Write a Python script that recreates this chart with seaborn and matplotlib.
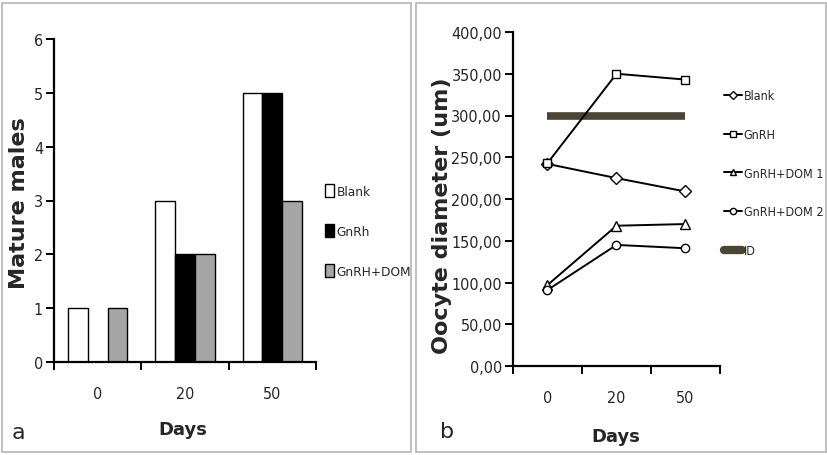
import matplotlib
matplotlib.use("Agg")
import matplotlib.pyplot as plt
from matplotlib import font_manager
from matplotlib.patches import Rectangle, Patch
from matplotlib.lines import Line2D
import numpy as np
import pandas as pd
import seaborn as sns

# ---- data ----
days = ["0", "20", "50"]

# panel a: number of mature males
mature_groups = ["Blank", "GnRh", "GnRH+DOM"]
mature_blank = [1, 3, 5]
mature_gnrh = [0, 2, 5]
mature_gnrh_dom = [1, 2, 3]

# panel b: oocyte diameter (um)
oocyte_groups = ["Blank", "GnRH", "GnRH+DOM 1", "GnRH+DOM 2"]
oocyte_blank = [242, 225, 209]
oocyte_gnrh = [243, 350, 343]
oocyte_dom1 = [97, 168, 170]
oocyte_dom2 = [91, 145, 141]
id_level = [300, 300, 300]

sns.set_theme(style="white")

# pick a narrow face for the numbers and legends if one is installed
narrow = None
for f in font_manager.fontManager.ttflist:
    name = f.name.lower()
    if "narrow" in name or "condensed" in name or f.stretch in ("condensed", "semi-condensed"):
        narrow = f
        break
if narrow is not None:
    nfam, nstretch, tick_size, leg_a, leg_b = narrow.name, narrow.stretch, 11.5, 9.7, 9
else:
    nfam, nstretch, tick_size, leg_a, leg_b = "DejaVu Sans", "normal", 10, 8.5, 8
small = dict(family=nfam, stretch=nstretch, fontsize=tick_size)
plt.rcParams["font.family"] = ["DejaVu Sans"]

fig = plt.figure(figsize=(8.28, 4.56), dpi=100)
fig.patch.set_facecolor("white")

# panel frames
for x0, w in [(2 / 828, 409 / 828), (416 / 828, 410 / 828)]:
    fig.add_artist(Rectangle((x0, 3 / 456), w, 449 / 456, transform=fig.transFigure,
                             fill=False, edgecolor="#b5b5b5", linewidth=1.2))

bold_font = dict(family="DejaVu Sans", fontsize=13, fontweight="bold")
ylab_font = dict(family="DejaVu Sans", fontsize=16, fontweight="bold")


def style_axes(ax):
    for s in ["top", "right"]:
        ax.spines[s].set_visible(False)
    for s in ["left", "bottom"]:
        ax.spines[s].set_color("black")
        ax.spines[s].set_linewidth(1.6)
    ax.set_xlim(-0.5, 2.5)
    ax.set_xticks(range(3))
    ax.set_xticklabels(days, **small)
    ax.set_xticks([-0.5, 0.5, 1.5, 2.5], minor=True)
    ax.tick_params(axis="x", which="major", length=0, pad=17)
    ax.tick_params(axis="x", which="minor", length=6, width=1.4, color="black", direction="out", bottom=True)
    ax.tick_params(axis="y", which="major", length=6, width=1.4, color="black", direction="out", left=True, pad=2)
    ax.grid(False)
    ax.set_facecolor("white")
    ax.set_xlabel("")
    ax.set_ylabel("")


# ---- panel a ----
ax1 = fig.add_axes([54 / 828, 1 - 363 / 456, 262 / 828, 323 / 456])
df_a = pd.DataFrame({
    "day": days * 3,
    "group": sum([[g] * 3 for g in mature_groups], []),
    "value": mature_blank + mature_gnrh + mature_gnrh_dom,
})
bar_colors = ["white", "black", "#a6a6a6"]
sns.barplot(data=df_a, x="day", y="value", hue="group", hue_order=mature_groups,
            palette=bar_colors, width=0.68, edgecolor="black", linewidth=1.0,
            saturation=1, ax=ax1, legend=False)
ax1.set_ylim(0, 6)
ax1.set_yticks(range(7))
ax1.set_yticklabels([str(v) for v in range(7)], **small)
style_axes(ax1)
handles_a = [Patch(facecolor=c, edgecolor="black", linewidth=1.0) for c in bar_colors]
ax1.legend(handles_a, mature_groups, loc="center left", bbox_to_anchor=(1.034, 0.406),
           frameon=False, prop=dict(family=nfam, stretch=nstretch, size=leg_a),
           handlelength=0.65, handleheight=1.2, borderpad=0,
           handletextpad=0.2, labelspacing=1.9, borderaxespad=0)
fig.text(19 / 828, 1 - 203 / 456, "Mature males", rotation=90, ha="center", va="center", **ylab_font)
fig.text(183 / 828, 1 - 430 / 456, "Days", ha="center", va="center", **bold_font)
fig.text(18 / 828, 1 - 433 / 456, "a", ha="center", va="center", family="DejaVu Sans", fontsize=16)

# ---- panel b ----
ax2 = fig.add_axes([513 / 828, 1 - 367 / 456, 207 / 828, 334 / 456])
pos = np.arange(len(days))
ax2.set_xlim(-0.5, 2.5)
id_color = "#4a4534"
sns.lineplot(x=pos, y=id_level, color=id_color, linewidth=5.5, solid_capstyle="butt",
             ax=ax2, label="ID", zorder=2)
series = [(oocyte_blank, "D", 6), (oocyte_gnrh, "s", 6), (oocyte_dom1, "^", 6.5), (oocyte_dom2, "o", 6)]
for name, (vals, mk, ms) in zip(oocyte_groups, series):
    sns.lineplot(x=pos, y=vals, color="black", linewidth=1.4, marker=mk, markersize=ms,
                 markerfacecolor="white", markeredgecolor="black", markeredgewidth=1.0,
                 ax=ax2, label=name, zorder=3)
ax2.set_ylim(0, 400)
yt = np.arange(0, 401, 50)
ax2.set_yticks(yt)
ax2.set_yticklabels([f"{v},00" for v in yt], **small)
style_axes(ax2)
leg_handles = [Line2D([0], [0], color="black", lw=1.4, marker=mk, markersize=4.5,
                      markerfacecolor="white", markeredgecolor="black")
               for (_, mk, _) in series]
leg_handles.append(Line2D([0], [0], color=id_color, lw=6, solid_capstyle="round"))
ax2.legend(leg_handles, oocyte_groups + ["ID"], loc="upper left", bbox_to_anchor=(1.019, 0.828),
           frameon=False, prop=dict(family=nfam, stretch=nstretch, size=leg_b),
           handlelength=1.45, handletextpad=0.12, borderpad=0,
           labelspacing=2.05, borderaxespad=0)
fig.text(442 / 828, 1 - 216 / 456, "Oocyte diameter (um)", rotation=90, ha="center", va="center", **ylab_font)
fig.text(616 / 828, 1 - 437 / 456, "Days", ha="center", va="center", **bold_font)
fig.text(447 / 828, 1 - 432 / 456, "b", ha="center", va="center", family="DejaVu Sans", fontsize=16)

fig.savefig("out.png", dpi=100, facecolor="white")
